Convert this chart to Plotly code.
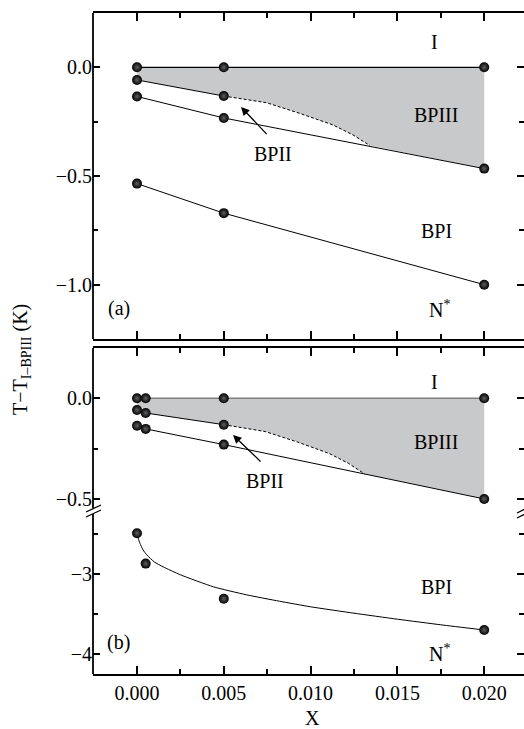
import plotly.graph_objects as go

# ---- phase-boundary data (x = concentration X, y = T - T_I-BPIII in K) ----
# panel (a)
a_x = [0.0, 0.005, 0.02]
a_iso = [0.0, 0.0, 0.0]                 # I / BPIII
a_bp3 = [-0.058, -0.132]                 # BPIII / BPII (x = 0, 0.005)
a_bp2 = [-0.134, -0.233, -0.466]         # BPII / BPI
a_bp1 = [-0.535, -0.671, -1.0]           # BPI / N*
a_dash_x = [0.005, 0.00747, 0.00939, 0.01129, 0.01244, 0.01342]
a_dash_y = [-0.132, -0.163, -0.212, -0.265, -0.311, -0.36]

# panel (b), upper segment
b_x = [0.0, 0.0005, 0.005, 0.02]
b_iso = [0.0, 0.0, 0.0, 0.0]
b_bp3 = [-0.058, -0.073, -0.131]         # x = 0, 0.0005, 0.005
b_bp2 = [-0.136, -0.152, -0.230, -0.5]
b_dash_x = [0.005, 0.00738, 0.00924, 0.01107, 0.01218, 0.0131]
b_dash_y = [-0.131, -0.165, -0.217, -0.274, -0.323, -0.375]

# panel (b), lower segment (BPI / N*) and its fitted curve
b_bp1 = [-2.49, -2.87, -3.31, -3.70]
fit_x = [0.0, 0.00008, 0.00017, 0.00035, 0.00056, 0.001, 0.0015, 0.0025,
         0.0044, 0.0063, 0.0082, 0.010, 0.0125, 0.015, 0.0175, 0.02]
fit_y = [-2.49, -2.56, -2.616, -2.70, -2.76, -2.85, -2.91, -3.01,
         -3.16, -3.26, -3.34, -3.41, -3.49, -3.565, -3.635, -3.70]

x_ticks = [0.0, 0.005, 0.01, 0.015, 0.02]
x_ticktext = ["0.000", "0.005", "0.010", "0.015", "0.020"]

FONT = "Liberation Serif, Times New Roman, serif"
FILL = "#c8c9cb"

# ---- layout geometry (pixels) ----
W, H = 524, 729
L, T, B = 93, 13, 55
PW, PH = W - L, H - T - B
BOT = H - B


def py(p):
    return (BOT - p) / PH


def px(p):
    return (p - L) / PW


marker = dict(size=10, color="#000000",
              gradient=dict(type="radial", color="#606060"),
              line=dict(width=0))

fig = go.Figure()


def add(x, y, ax, ay, **kw):
    fig.add_trace(go.Scatter(x=x, y=y, xaxis=ax, yaxis=ay,
                             showlegend=False, hoverinfo="skip", **kw))


# ---------- panel (a) ----------
fx = [0.0, a_x[1]] + a_dash_x[1:] + [a_x[2], a_x[2], 0.0]
fy = [a_bp3[0], a_bp3[1]] + a_dash_y[1:] + [a_bp2[2], 0.0, 0.0]
add(fx, fy, "x", "y", fill="toself", fillcolor=FILL, mode="none")
add(a_dash_x, a_dash_y, "x", "y", mode="lines",
    line=dict(color="black", width=1, dash="3px,2px"))
add(a_x, a_iso, "x", "y", mode="lines+markers",
    line=dict(color="black", width=1.2), marker=marker)
add(a_x[:2], a_bp3, "x", "y", mode="lines+markers",
    line=dict(color="black", width=1), marker=marker)
add(a_x, a_bp2, "x", "y", mode="lines+markers",
    line=dict(color="black", width=1), marker=marker)
add(a_x, a_bp1, "x", "y", mode="lines+markers",
    line=dict(color="black", width=1), marker=marker)

# ---------- panel (b), upper ----------
fx = [b_x[0], b_x[1], b_x[2]] + b_dash_x[1:] + [b_x[3], b_x[3], b_x[0]]
fy = [b_bp3[0], b_bp3[1], b_bp3[2]] + b_dash_y[1:] + [b_bp2[3], 0.0, 0.0]
add(fx, fy, "x2", "y2", fill="toself", fillcolor=FILL, mode="none")
add(b_dash_x, b_dash_y, "x2", "y2", mode="lines",
    line=dict(color="black", width=1, dash="3px,2px"))
add(b_x[1:], b_iso[1:], "x2", "y2", mode="lines",
    line=dict(color="#808080", width=1.5))
add(b_x, b_iso, "x2", "y2", mode="markers", marker=marker)
add(b_x[1:3], b_bp3[1:], "x2", "y2", mode="lines",
    line=dict(color="black", width=1))
add(b_x[:3], b_bp3, "x2", "y2", mode="markers", marker=marker)
add(b_x[1:], b_bp2[1:], "x2", "y2", mode="lines",
    line=dict(color="black", width=1))
add(b_x, b_bp2, "x2", "y2", mode="markers", marker=marker)

# ---------- panel (b), lower ----------
add(fit_x, fit_y, "x3", "y3", mode="lines",
    line=dict(color="black", width=1, shape="spline", smoothing=0.5))
add(b_x, b_bp1, "x3", "y3", mode="markers", marker=marker)

# ---------- axes ----------
xr = [-(137 - L) / 17360, (W - 137) / 17360]
xcommon = dict(range=xr, tickvals=x_ticks, ticktext=x_ticktext,
               ticks="inside", ticklen=8, tickwidth=1.5, tickcolor="black",
               showline=True, linecolor="black", linewidth=1.8,
               showgrid=False, zeroline=False,
               minor=dict(ticks="inside", ticklen=5, tickwidth=1.5,
                          tickcolor="black", tick0=0, dtick=0.0025,
                          showgrid=False),
               tickfont=dict(family=FONT, size=20, color="black"))
ycommon = dict(ticks="inside", ticklen=7, tickwidth=1.5, tickcolor="black",
               showline=False, mirror="ticks", showgrid=False, zeroline=False,
               tickfont=dict(family=FONT, size=20, color="black"))

fig.update_layout(
    width=W, height=H, margin=dict(l=L, r=0, t=T, b=B),
    plot_bgcolor="white", paper_bgcolor="white",
    font=dict(family=FONT, color="black"),
    xaxis=dict(**xcommon, anchor="y", mirror="ticks", showticklabels=False),
    xaxis2=dict(**xcommon, anchor="y2", side="top", showticklabels=False),
    xaxis3=dict(**xcommon, anchor="y3", side="bottom"),
    yaxis=dict(**ycommon, domain=[py(339), 1.0], range=[-1.25, 0.25],
               tickvals=[0.0, -0.5, -1.0], ticktext=["0.0", "\u22120.5", "\u22121.0"],
               minor=dict(ticks="inside", ticklen=5, tickwidth=1.5,
                          tickcolor="black", tickvals=[-0.25, -0.75])),
    yaxis2=dict(**ycommon, domain=[py(508), py(348)], range=[-0.545, 0.25],
                tickvals=[0.0, -0.5], ticktext=["0.0", "\u22120.5"],
                minor=dict(ticks="inside", ticklen=5, tickwidth=1.5,
                           tickcolor="black", tickvals=[-0.25])),
    yaxis3=dict(**ycommon, domain=[0.0, py(514)], range=[-4.25, -2.25],
                tickvals=[-3, -4], ticktext=["\u22123", "\u22124"],
                minor=dict(ticks="inside", ticklen=5, tickwidth=1.5,
                           tickcolor="black", tickvals=[-2.5, -3.5])),
)

# left axis lines and axis-break marks
shapes = []
for top, bot in [(13, 339), (348, 508), (514, BOT)]:
    shapes.append(dict(type="line", xref="paper", yref="paper",
                       x0=0, x1=0, y0=py(bot), y1=py(top),
                       line=dict(color="black", width=1.8)))
for dy in (0, 5):
    shapes.append(dict(type="line", xref="paper", yref="paper",
                       x0=px(86), x1=px(101), y0=py(512 + dy), y1=py(505 + dy),
                       line=dict(color="black", width=1.3)))
    shapes.append(dict(type="line", xref="paper", yref="paper",
                       x0=px(517), x1=px(527), y0=py(513 + dy), y1=py(508 + dy),
                       line=dict(color="black", width=1.3)))
fig.update_layout(shapes=shapes)

# ---------- labels ----------
def label(text, x, y, xref, yref, size=20):
    fig.add_annotation(text=text, x=x, y=y, xref=xref, yref=yref,
                       showarrow=False, font=dict(family=FONT, size=size, color="black"),
                       xanchor="center", yanchor="middle")


label("I", 0.01716, 0.115, "x", "y")
label("BPIII", 0.01723, -0.218, "x", "y")
label("BPII", 0.00783, -0.397, "x", "y")
label("BPI", 0.01728, -0.753, "x", "y")
label("(a)", -0.00104, -1.11, "x", "y")
label("N<sup>*</sup>", 0.0174, -1.114, "x", "y")

label("I", 0.01716, 0.08, "x2", "y2")
label("BPIII", 0.01723, -0.215, "x2", "y2")
label("BPII", 0.00737, -0.409, "x2", "y2")
label("BPI", 0.01728, -3.16, "x3", "y3")
label("(b)", -0.00104, -3.85, "x3", "y3")
label("N<sup>*</sup>", 0.0174, -3.99, "x3", "y3")

for xa, ya, (hx, hy), (tx, ty) in [("x", "y", (0.00599, -0.182), (0.00755, -0.314)),
                                    ("x2", "y2", (0.00553, -0.182), (0.0072, -0.321))]:
    fig.add_annotation(x=hx, y=hy, ax=tx, ay=ty, xref=xa, yref=ya,
                       axref=xa, ayref=ya, text="", showarrow=True,
                       arrowhead=2, arrowsize=1.3, arrowwidth=1.3,
                       arrowcolor="black", standoff=0, startstandoff=0)

# axis titles
fig.add_annotation(text="T\u2212T<sub>I\u2013BPIII</sub> (K)", x=px(21), y=py(360),
                   xref="paper", yref="paper", textangle=-90, showarrow=False,
                   font=dict(family=FONT, size=20, color="black"),
                   xanchor="center", yanchor="middle")
fig.add_annotation(text="X", x=px(312), y=py(718), xref="paper", yref="paper",
                   showarrow=False, font=dict(family=FONT, size=20, color="black"),
                   xanchor="center", yanchor="middle")

fig.write_html("out.html")
